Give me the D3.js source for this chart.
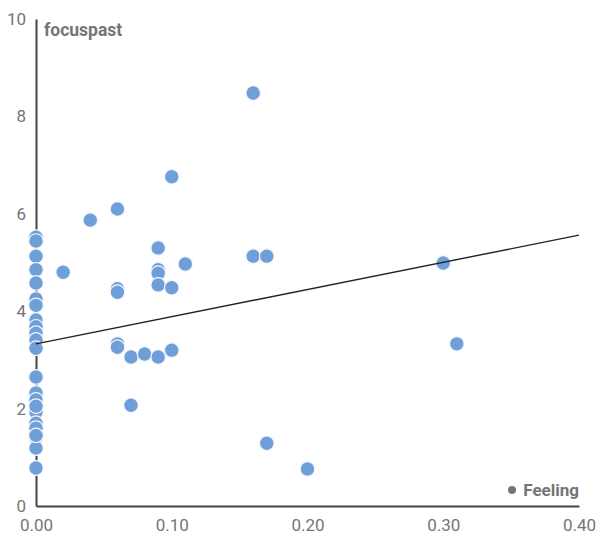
<!DOCTYPE html>
<html>
<head>
<meta charset="utf-8">
<script src="https://cdn.jsdelivr.net/npm/d3@7"></script>
<style>
  html, body { margin: 0; padding: 0; background: #fff; }
  svg { display: block; font-family: Roboto, "Noto Sans", sans-serif; }
</style>
</head>
<body>
<svg id="chart" width="599" height="538"></svg>
<script>
// Feeling (x) vs focuspast (y)
const feeling = [
  0.16, 0.10, 0.06, 0.04, 0.09, 0.09, 0.09, 0.11, 0.09, 0.10, 0.06, 0.06, 0.02,
  0.16, 0.17, 0.30, 0.31, 0.06, 0.06, 0.07, 0.08, 0.09, 0.10, 0.07, 0.17, 0.20,
  0.00, 0.00, 0.00, 0.00, 0.00, 0.00, 0.00, 0.00, 0.00, 0.00, 0.00, 0.00,
  0.00, 0.00, 0.00, 0.00, 0.00, 0.00, 0.00, 0.00, 0.00, 0.00, 0.00, 0.00
];
const focuspast = [
  8.48, 6.76, 6.10, 5.87, 5.30, 4.85, 4.78, 4.97, 4.54, 4.48, 4.46, 4.39, 4.80,
  5.13, 5.13, 4.99, 3.33, 3.33, 3.26, 3.06, 3.12, 3.06, 3.20, 2.07, 1.29, 0.76,
  5.52, 5.44, 5.13, 4.85, 4.58, 4.25, 4.12, 3.82, 3.68, 3.55, 3.41, 3.24,
  2.65, 2.32, 2.18, 1.93, 1.70, 1.52, 1.40, 1.19, 0.78, 1.60, 2.05, 1.45
];
const xTicks = [0, 0.1, 0.2, 0.3, 0.4];
const yTicks = [0, 2, 4, 6, 8, 10];
// linear trend: value at x = 0 and slope
const trendIntercept = 3.33;
const trendSlope = 5.58;

const svg = d3.select("#chart");
const x = d3.scaleLinear().domain([0, 0.4]).range([36, 579]);
const y = d3.scaleLinear().domain([0, 10]).range([506, 19]);

const grey = "#757575";

// y axis
const yAxis = svg.append("g").attr("transform", "translate(36,0)")
  .call(d3.axisLeft(y).tickValues(yTicks).tickSize(0).tickPadding(10).tickFormat(d3.format("d")));
yAxis.select(".domain").attr("stroke", "#444").attr("stroke-width", 2);
yAxis.selectAll("text").attr("fill", grey).attr("font-size", 17).attr("font-family", "Roboto");

// x axis
const xAxis = svg.append("g").attr("transform", "translate(0,506)")
  .call(d3.axisBottom(x).tickValues(xTicks).tickSize(0).tickPadding(13).tickFormat(d3.format(".2f")));
xAxis.select(".domain").attr("stroke", "#444").attr("stroke-width", 2);
xAxis.selectAll("text").attr("fill", grey).attr("font-size", 17).attr("font-family", "Roboto");

// points
const pts = feeling.map((f, i) => ({ f, p: focuspast[i] }));
svg.append("g").selectAll("circle").data(pts).join("circle")
  .attr("cx", d => x(d.f))
  .attr("cy", d => y(d.p))
  .attr("r", 7.3)
  .attr("fill", "#6f9fd9")
  .attr("stroke", "#f4f6fa")
  .attr("stroke-width", 1.2);

// trend line
svg.append("line")
  .attr("x1", x(0)).attr("y1", y(trendIntercept))
  .attr("x2", x(0.4)).attr("y2", y(trendIntercept + trendSlope * 0.4))
  .attr("stroke", "#222").attr("stroke-width", 1.4);

// titles
svg.append("text").attr("x", 44).attr("y", 36)
  .attr("fill", grey).attr("font-size", 17.5).attr("font-weight", "bold")
  .text("focuspast");

svg.append("circle").attr("cx", 512).attr("cy", 490).attr("r", 4).attr("fill", grey);
svg.append("text").attr("x", 579).attr("y", 496).attr("text-anchor", "end")
  .attr("fill", grey).attr("font-size", 17).attr("font-weight", "bold")
  .text("Feeling");
</script>
</body>
</html>
